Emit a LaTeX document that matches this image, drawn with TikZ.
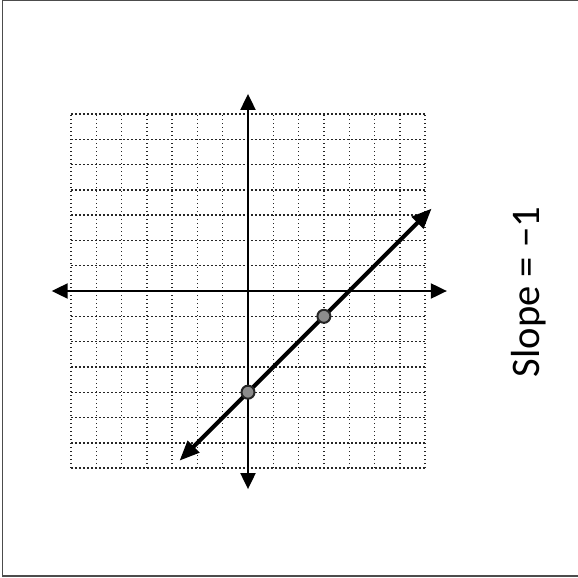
\documentclass[tikz,border=0pt]{standalone}
\usepackage{fontspec}
\setmainfont{Carlito}
\usetikzlibrary{arrows.meta}
\tikzset{
  gridline/.style={dash pattern=on 0.8pt off 1.2pt, line width=0.7pt, black!85},
  axisline/.style={line width=1pt, black, {Triangle[length=8pt,width=7.5pt]}-{Triangle[length=8pt,width=7.5pt]}},
  slopeline/.style={line width=2pt, black, {Triangle[length=10pt,width=8pt]}-{Triangle[length=10pt,width=8pt]}, shorten <=-1pt, shorten >=-1pt},
  ptdot/.style={circle, draw=black!85, line width=1pt, fill=black!45, minimum size=6.5pt, inner sep=0pt},
  framestyle/.style={draw=black!70, line width=0.6pt},
  labelstyle/.style={rotate=90, anchor=base, font=\fontsize{20.3pt}{24pt}\selectfont}
}
\begin{document}
\begin{tikzpicture}[x=0.5pt,y=-0.5pt]
\useasboundingbox (0,0) rectangle (578,578);
% frame
\draw[framestyle] (582,0.8) -- (2.5,0.8) -- (2.5,576) -- (582,576);
\begin{scope}[shift={(124pt,-145.5pt)}, x=12.65pt, y=12.65pt]
  % grid
  \foreach \i in {-7,...,7} {
    \draw[gridline] (\i,-7) -- (\i,7);
    \draw[gridline] (-7,\i) -- (7,\i);
  }
  % axes
  \coordinate (xl) at (-7.76,0);
  \coordinate (xr) at (7.86,0);
  \coordinate (yb) at (0,-7.83);
  \coordinate (yt) at (0,7.79);
  \draw[axisline] (xl) -- (xr);
  \draw[axisline] (yb) -- (yt);
  % line
  \coordinate (la) at (-2.65,-6.65);
  \coordinate (lb) at (7.2,3.2);
  \draw[slopeline] (la) -- (lb);
  \node[ptdot] (p1) at (0,-4) {};
  \node[ptdot] (p2) at (3,-1) {};
\end{scope}
\node[labelstyle] (lbl) at (539,292) {Slope = −1};
\end{tikzpicture}
\end{document}
